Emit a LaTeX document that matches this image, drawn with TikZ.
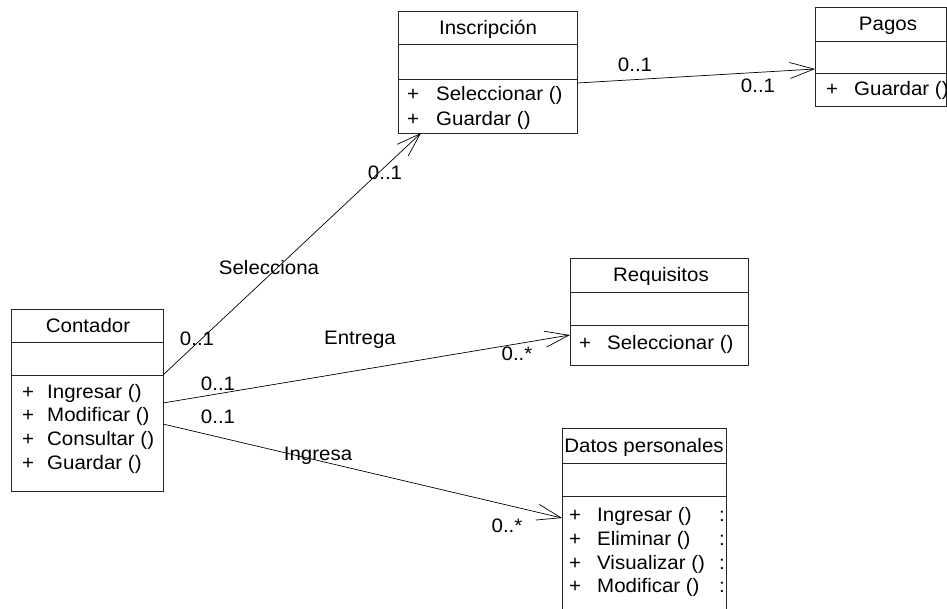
\documentclass[tikz,border=0pt]{standalone}
\usepackage{fontspec}
\setmainfont{Liberation Sans}[FakeStretch=1.05]
\usetikzlibrary{arrows.meta}
\begin{document}
\begin{tikzpicture}[x=1pt,y=-1pt,
  box/.style={draw=black!85, line width=0.8pt, anchor=north west, inner sep=0pt, outer sep=0pt},
  sep/.style={draw=black!85, line width=0.8pt},
  txt/.style={font=\fontsize{19.5}{23}\selectfont, inner sep=0pt, text height=14pt, text depth=0pt},
  mtxt/.style={txt, anchor=west},
  assoc/.style={draw=black, line width=0.7pt, -{Straight Barb[length=24pt,width=16pt,line width=0.7pt]}}
]
\path[use as bounding box] (0,0) rectangle (947,608);

% Inscripcion
\node[box, minimum width=179pt, minimum height=122pt] (insc) at (398,11) {};
\draw[sep] (398,44) -- (577,44) (398,79) -- (577,79);
\node[txt] (inscT) at (488,27) {Inscripción};
\node[txt] (inscP1) at (413,93) {+};
\node[mtxt] (inscM1) at (436,93) {Seleccionar ()};
\node[txt] (inscP2) at (413,118) {+};
\node[mtxt] (inscM2) at (436,118) {Guardar ()};

% Pagos
\node[box, minimum width=131pt, minimum height=99pt] (pagos) at (815,7) {};
\draw[sep] (815,41) -- (946,41) (815,73) -- (946,73);
\node[txt] (pagosT) at (888,23) {Pagos};
\node[txt] (pagosP1) at (832,88) {+};
\node[mtxt] (pagosM1) at (854,88) {Guardar ()};

% Requisitos
\node[box, minimum width=178pt, minimum height=107pt] (req) at (570,258) {};
\draw[sep] (570,292) -- (748,292) (570,325) -- (748,325);
\node[txt] (reqT) at (661,274) {Requisitos};
\node[txt] (reqP1) at (585,342) {+};
\node[mtxt] (reqM1) at (607,342) {Seleccionar ()};

% Contador
\node[box, minimum width=152pt, minimum height=182pt] (cont) at (11,309) {};
\draw[sep] (11,342) -- (163,342) (11,375) -- (163,375);
\node[txt] (contT) at (88,325) {Contador};
\node[txt] (contP1) at (28,391) {+};
\node[mtxt] (contM1) at (47,391) {Ingresar ()};
\node[txt] (contP2) at (28,414) {+};
\node[mtxt] (contM2) at (47,414) {Modificar ()};
\node[txt] (contP3) at (28,438) {+};
\node[mtxt] (contM3) at (47,438) {Consultar ()};
\node[txt] (contP4) at (28,462) {+};
\node[mtxt] (contM4) at (47,462) {Guardar ()};

% Datos personales
\node[box, minimum width=164pt, minimum height=200pt] (datos) at (562,428) {};
\draw[sep] (562,463) -- (726,463) (562,496) -- (726,496);
\node[txt] (datosT) at (644,445) {Datos personales};
\node[txt] (datosP1) at (575,514) {+};
\node[mtxt] (datosM1) at (597,514) {Ingresar ()};
\node[txt] (datosC1) at (722,514) {:};
\node[txt] (datosP2) at (575,538) {+};
\node[mtxt] (datosM2) at (597,538) {Eliminar ()};
\node[txt] (datosC2) at (722,538) {:};
\node[txt] (datosP3) at (575,562) {+};
\node[mtxt] (datosM3) at (597,562) {Visualizar ()};
\node[txt] (datosC3) at (722,562) {:};
\node[txt] (datosP4) at (575,585) {+};
\node[mtxt] (datosM4) at (597,585) {Modificar ()};
\node[txt] (datosC4) at (722,585) {:};

% Connectors
\draw[assoc] ([yshift=-72pt]insc.north east) -- ([yshift=-62pt]pagos.north west);
\draw[assoc] ([yshift=-66pt]cont.north east) -- ([xshift=23pt]insc.south west);
\draw[assoc] ([yshift=-94pt]cont.north east) -- ([yshift=-77pt]req.north west);
\draw[assoc] ([yshift=-115pt]cont.north east) -- ([yshift=-90pt]datos.north west);

% Labels
\node[txt] (l1) at (635,64) {0..1};
\node[txt] (l2) at (758,85) {0..1};
\node[txt] (l3) at (385,172) {0..1};
\node[txt] (l4) at (269,267) {Selecciona};
\node[txt] (l5) at (197,338) {0..1};
\node[txt] (l6) at (360,337) {Entrega};
\node[txt] (l7) at (517,353) {0..*};
\node[txt] (l8) at (218,383) {0..1};
\node[txt] (l9) at (218,416) {0..1};
\node[txt] (l10) at (318,453) {Ingresa};
\node[txt] (l11) at (507,525) {0..*};
\end{tikzpicture}
\end{document}
